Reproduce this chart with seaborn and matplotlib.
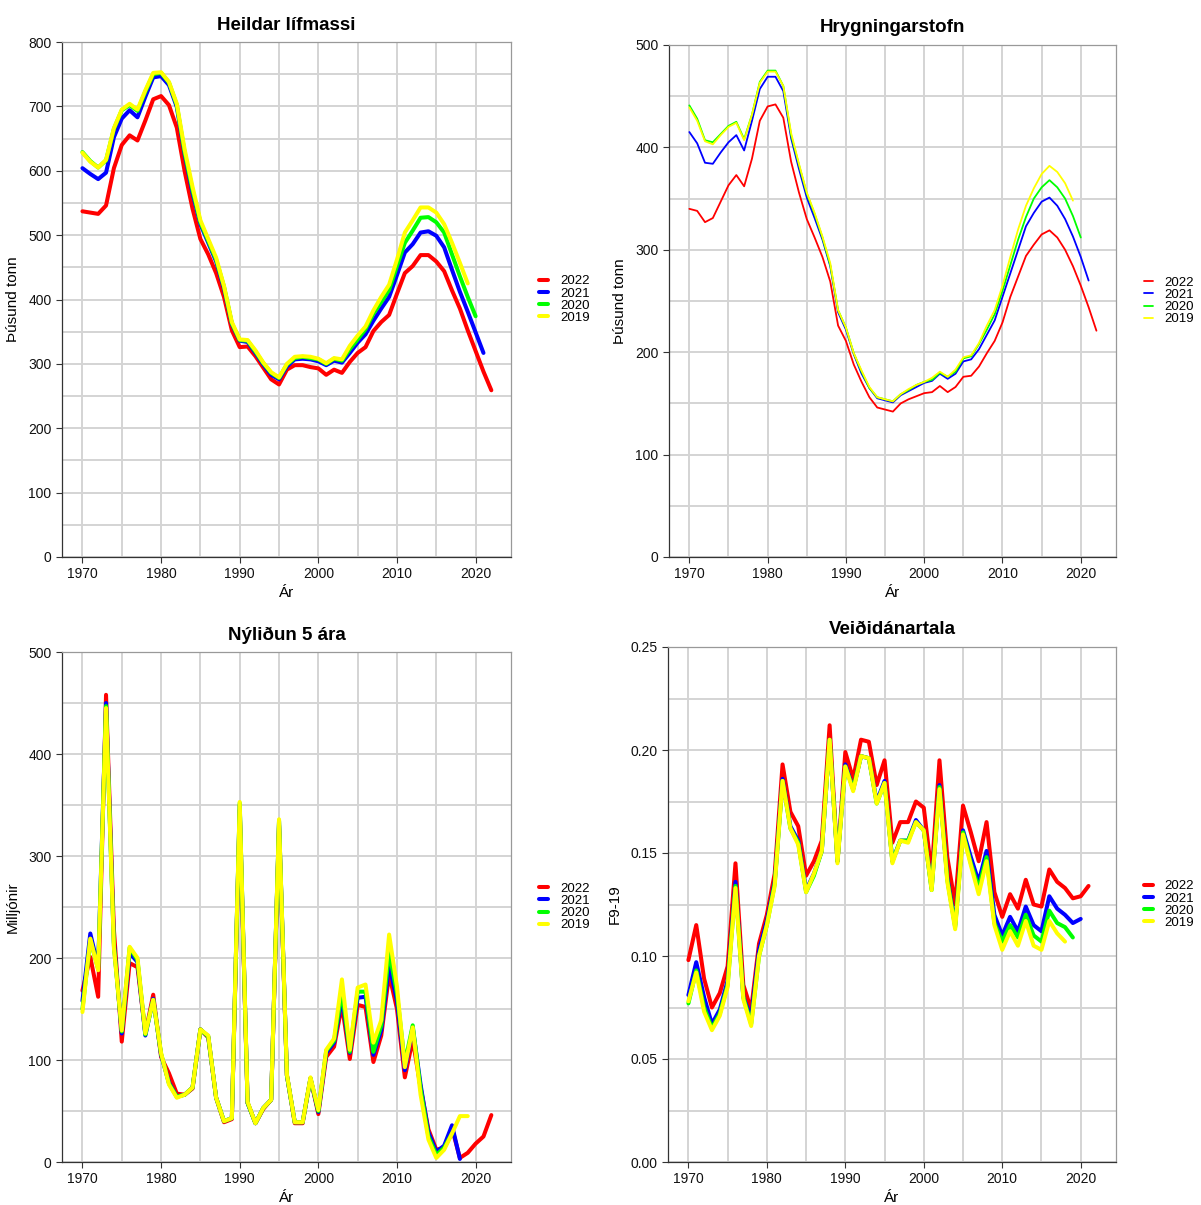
import matplotlib
matplotlib.use("Agg")
import matplotlib.pyplot as plt
from matplotlib.ticker import MultipleLocator
import numpy as np
import pandas as pd
import seaborn as sns

first_year = 1970
labels = ["2022", "2021", "2020", "2019"]
colors = {"2022": "#ff0000", "2021": "#0000ff", "2020": "#00ff00", "2019": "#ffff00"}

# Heildar lifmassi (thousand tonnes)
bio_2022 = [537, 535, 533, 546, 604, 640, 655, 647, 678, 711,
            716, 702, 667, 599, 541, 494, 470, 441, 404, 352,
            326, 327, 312, 294, 276, 268, 291, 298, 298, 295,
            293, 283, 291, 286, 303, 317, 326, 351, 365, 376,
            409, 441, 452, 469, 469, 459, 444, 414, 386, 352,
            320, 288, 259]
bio_2021 = [604, 595, 587, 597, 652, 681, 694, 683, 715, 745,
            747, 733, 699, 625, 565, 517, 488, 459, 417, 362,
            336, 334, 317, 299, 283, 276, 296, 307, 308, 307,
            304, 298, 305, 302, 317, 333, 346, 367, 386, 404,
            438, 473, 486, 504, 506, 499, 481, 446, 412, 381,
            349, 317]
bio_2020 = [629, 615, 605, 616, 665, 694, 702, 693, 723, 750,
            752, 737, 702, 628, 570, 520, 491, 462, 420, 363,
            337, 336, 319, 301, 286, 278, 299, 309, 311, 309,
            307, 300, 308, 305, 323, 338, 354, 378, 396, 415,
            452, 488, 507, 527, 528, 520, 504, 470, 436, 404,
            374]
bio_2019 = [628, 614, 605, 617, 666, 695, 704, 695, 725, 752,
            753, 738, 704, 633, 575, 523, 494, 465, 421, 365,
            338, 337, 321, 302, 287, 279, 300, 311, 312, 311,
            308, 301, 309, 307, 328, 344, 358, 383, 404, 423,
            462, 504, 523, 543, 543, 535, 517, 488, 457, 425]

# Hrygningarstofn (thousand tonnes)
ssb_2022 = [340, 338, 327, 331, 347, 363, 373, 362, 389, 426,
            440, 442, 429, 386, 356, 330, 312, 293, 269, 226,
            211, 188, 171, 156, 146, 144, 142, 150, 154, 157,
            160, 161, 167, 161, 166, 176, 177, 186, 199, 211,
            229, 254, 274, 294, 305, 315, 319, 312, 300, 284,
            265, 244, 221]
ssb_2021 = [415, 404, 385, 384, 395, 405, 412, 397, 426, 457,
            469, 469, 455, 409, 379, 351, 331, 310, 284, 239,
            222, 198, 179, 165, 155, 153, 151, 158, 162, 166,
            170, 172, 179, 174, 179, 191, 193, 203, 217, 231,
            254, 277, 300, 323, 336, 347, 351, 343, 330, 313,
            293, 270]
ssb_2020 = [441, 428, 407, 405, 413, 421, 425, 408, 432, 464,
            475, 475, 460, 412, 383, 355, 335, 312, 285, 241,
            224, 199, 181, 165, 156, 154, 152, 159, 163, 168,
            171, 173, 180, 176, 181, 194, 196, 208, 222, 237,
            260, 285, 310, 332, 350, 361, 368, 361, 350, 333,
            312]
ssb_2019 = [439, 426, 406, 403, 412, 420, 424, 407, 432, 463,
            474, 474, 460, 414, 384, 356, 336, 313, 287, 241,
            224, 199, 182, 166, 156, 154, 152, 159, 164, 168,
            171, 175, 181, 176, 183, 195, 197, 209, 226, 241,
            265, 293, 320, 343, 360, 374, 382, 376, 365, 348]

# Nyliðun 5 ara (millions)
rec_2022 = [168, 201, 162, 458, 228, 118, 195, 191, 126, 164,
            103, 87, 67, 66, 72, 130, 122, 63, 39, 42,
            345, 58, 38, 52, 61, 330, 85, 38, 38, 82,
            47, 103, 113, 154, 101, 154, 152, 98, 124, 184,
            150, 83, 120, 73, 32, 12, 14, 33, 4, 9,
            18, 25, 46]
rec_2021 = [158, 224, 191, 450, 215, 126, 205, 196, 124, 160,
            105, 78, 64, 66, 73, 130, 123, 63, 40, 43,
            350, 58, 38, 53, 61, 334, 85, 39, 39, 82,
            49, 107, 117, 161, 107, 161, 162, 105, 129, 194,
            158, 90, 132, 76, 29, 10, 16, 36, 3]
rec_2020 = [150, 218, 189, 447, 212, 128, 210, 198, 125, 159,
            106, 77, 64, 66, 73, 130, 123, 63, 40, 43,
            352, 58, 38, 53, 61, 335, 85, 39, 39, 82,
            50, 109, 119, 167, 108, 167, 167, 108, 134, 206,
            165, 97, 134, 72, 25, 7, 14, 28]
rec_2019 = [147, 219, 188, 445, 210, 129, 211, 200, 126, 159,
            107, 76, 63, 66, 73, 130, 124, 63, 40, 43,
            353, 59, 38, 53, 61, 336, 86, 39, 39, 83,
            51, 110, 121, 179, 110, 171, 174, 117, 139, 223,
            172, 93, 132, 66, 22, 4, 12, 28, 45, 45]

# Veiðidanartala F9-19
f_2022 = [0.098, 0.115, 0.089, 0.075, 0.082, 0.095, 0.145, 0.086, 0.074, 0.106,
          0.120, 0.140, 0.193, 0.170, 0.163, 0.139, 0.146, 0.156, 0.212, 0.146,
          0.199, 0.186, 0.205, 0.204, 0.183, 0.195, 0.155, 0.165, 0.165, 0.175,
          0.172, 0.140, 0.195, 0.148, 0.125, 0.173, 0.160, 0.146, 0.165, 0.131,
          0.119, 0.130, 0.123, 0.137, 0.125, 0.124, 0.142, 0.136, 0.133, 0.128,
          0.129, 0.134]
f_2021 = [0.081, 0.097, 0.080, 0.067, 0.074, 0.088, 0.136, 0.080, 0.070, 0.103,
          0.117, 0.136, 0.186, 0.163, 0.156, 0.132, 0.140, 0.151, 0.205, 0.146,
          0.193, 0.181, 0.197, 0.196, 0.175, 0.185, 0.146, 0.156, 0.156, 0.166,
          0.161, 0.133, 0.183, 0.138, 0.115, 0.161, 0.148, 0.136, 0.151, 0.120,
          0.110, 0.119, 0.112, 0.124, 0.115, 0.112, 0.129, 0.123, 0.120, 0.116,
          0.118]
f_2020 = [0.077, 0.093, 0.075, 0.065, 0.072, 0.086, 0.134, 0.080, 0.067, 0.100,
          0.115, 0.135, 0.185, 0.162, 0.155, 0.131, 0.139, 0.151, 0.205, 0.146,
          0.192, 0.181, 0.197, 0.196, 0.174, 0.184, 0.146, 0.156, 0.156, 0.165,
          0.161, 0.132, 0.182, 0.137, 0.114, 0.160, 0.145, 0.133, 0.148, 0.116,
          0.107, 0.115, 0.109, 0.120, 0.110, 0.107, 0.122, 0.116, 0.114, 0.109]
f_2019 = [0.078, 0.092, 0.073, 0.064, 0.071, 0.085, 0.133, 0.079, 0.066, 0.100,
          0.115, 0.134, 0.185, 0.162, 0.154, 0.131, 0.140, 0.151, 0.205, 0.145,
          0.192, 0.180, 0.197, 0.196, 0.174, 0.184, 0.145, 0.156, 0.155, 0.165,
          0.161, 0.132, 0.181, 0.136, 0.113, 0.159, 0.144, 0.130, 0.146, 0.115,
          0.103, 0.112, 0.105, 0.117, 0.105, 0.103, 0.117, 0.111, 0.107]


def long_frame(series):
    parts = []
    for lab, vals in zip(labels, series):
        parts.append(pd.DataFrame({
            "Ár": np.arange(first_year, first_year + len(vals)),
            "value": vals,
            "Mat": lab,
        }))
    return pd.concat(parts, ignore_index=True)


panels = [
    ("Heildar lífmassi", "Þúsund tonn", [bio_2022, bio_2021, bio_2020, bio_2019],
     (0, 800), 100, 50, 2.9, "{x:.0f}"),
    ("Hrygningarstofn", "Þúsund tonn", [ssb_2022, ssb_2021, ssb_2020, ssb_2019],
     (0, 500), 100, 50, 1.3, "{x:.0f}"),
    ("Nýliðun 5 ára", "Milljónir", [rec_2022, rec_2021, rec_2020, rec_2019],
     (0, 500), 100, 50, 2.9, "{x:.0f}"),
    ("Veiðidánartala", "F9-19", [f_2022, f_2021, f_2020, f_2019],
     (0, 0.25), 0.05, 0.025, 2.9, "{x:.2f}"),
]

sns.set_theme(style="white")
plt.rcParams["font.family"] = ["Liberation Sans", "DejaVu Sans"]
plt.rcParams["text.color"] = "black"
plt.rcParams["axes.labelcolor"] = "black"

fig = plt.figure(figsize=(12.01, 12.05), dpi=100)
W, H = 1201, 1205
boxes = [(62, 511, 42, 557), (669, 1116, 45, 557),
         (62, 511, 652, 1162), (668, 1116, 647, 1162)]

for (title, ylab, series, ylim, ymaj, ymin, lw, fmt), (l, r, t, b) in zip(panels, boxes):
    ax = fig.add_axes([l / W, 1 - b / H, (r - l) / W, (b - t) / H])
    df = long_frame(series)
    sns.lineplot(data=df, x="Ár", y="value", hue="Mat", hue_order=labels,
                 palette=colors, linewidth=lw, ax=ax, zorder=3)
    ax.set_xlim(1967.4, 2024.5)
    ax.set_ylim(*ylim)
    ax.xaxis.set_major_locator(MultipleLocator(10))
    ax.xaxis.set_minor_locator(MultipleLocator(5))
    ax.yaxis.set_major_locator(MultipleLocator(ymaj))
    ax.yaxis.set_minor_locator(MultipleLocator(ymin))
    ax.yaxis.set_major_formatter(fmt)
    ax.grid(True, which="both", color="#d4d4d4", linewidth=1.4, zorder=0)
    ax.set_axisbelow(True)
    ax.tick_params(which="major", direction="out", length=4, width=0.8,
                   color="#333333", labelsize=10, labelcolor="#111111",
                   left=True, bottom=True)
    ax.tick_params(which="minor", length=0)
    for side in ["left", "bottom"]:
        ax.spines[side].set_color("#333333")
        ax.spines[side].set_linewidth(0.9)
    for side in ["top", "right"]:
        ax.spines[side].set_color("#999999")
        ax.spines[side].set_linewidth(0.9)
    ax.set_title(title, fontsize=13.5, fontweight="bold", pad=9, color="black")
    ax.set_xlabel("Ár", fontsize=11, labelpad=3)
    ax.set_ylabel(ylab, fontsize=11, labelpad=6)
    ax.legend(loc="center left", bbox_to_anchor=(1.05, 0.5), frameon=False,
              borderaxespad=0, handlelength=0.7, handletextpad=0.9,
              labelspacing=0.0, fontsize=9.5, title=None)

fig.savefig("out.png", dpi=100)
